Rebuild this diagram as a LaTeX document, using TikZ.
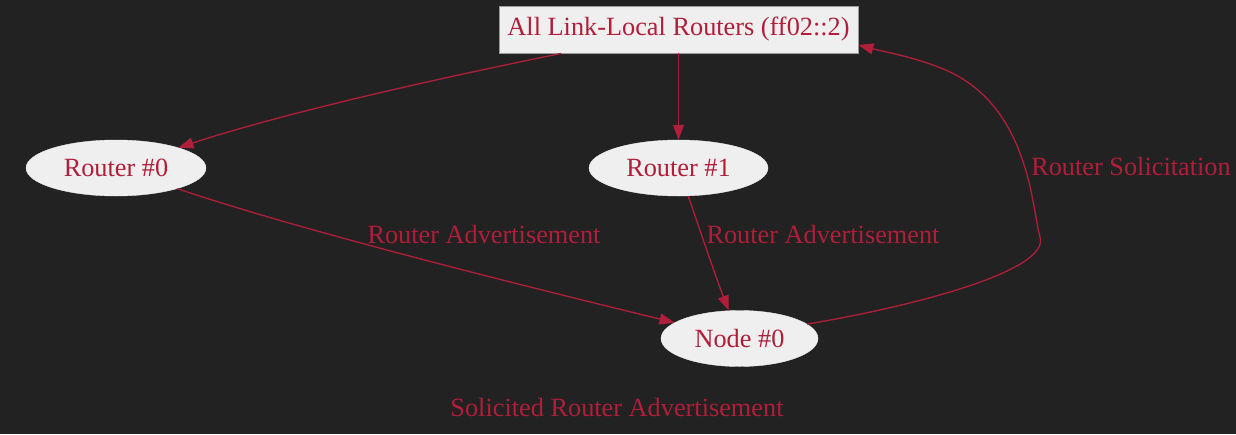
\documentclass[tikz,border=0pt]{standalone}
\usepackage{fontspec}
\setmainfont{Liberation Serif}
\usetikzlibrary{arrows.meta,shapes.geometric}
\definecolor{bg}{HTML}{222222}
\definecolor{fg}{HTML}{B01E3A}
\definecolor{nodefill}{HTML}{EFEFEF}
\definecolor{boxline}{HTML}{9A9A9A}
\tikzset{
  lbl/.style={text=fg,font=\fontsize{26.3}{31}\selectfont,inner sep=0pt},
  ellnode/.style={ellipse,fill=nodefill,draw=nodefill,text=fg,inner sep=0pt,minimum height=56pt,font=\fontsize{26.3}{31}\selectfont},
  boxnode/.style={rectangle,fill=nodefill,draw=boxline,line width=0.8pt,text=fg,inner sep=0pt,minimum width=359pt,minimum height=47pt,font=\fontsize{26.3}{31}\selectfont},
  conn/.style={draw=fg,line width=1.3pt,-{Triangle[length=15pt,width=11pt]}}
}
\begin{document}
\begin{tikzpicture}[x=1pt,y=-1pt]
\fill[bg] (0,0) rectangle (1236,434);
\useasboundingbox (0,0) rectangle (1236,434);
\node[boxnode] (box) at (678.5,29.5) {All Link-Local Routers (ff02::2)};
\node[ellnode,minimum width=180pt] (r0) at (116,168) {Router \#0};
\node[ellnode,minimum width=179pt] (r1) at (678.5,168) {Router \#1};
\node[ellnode,minimum width=157pt] (n0) at (739.5,338.5) {Node \#0};
\node[lbl] (l1) at (484,234) {Router Advertisement};
\node[lbl] (l2) at (823,234) {Router Advertisement};
\node[lbl] (l3) at (1131,167) {Router Solicitation};
\node[lbl] (title) at (617,407) {Solicited Router Advertisement};
\draw[conn] (box) .. controls (470,72) and (300,108) .. (r0);
\draw[conn] (box) -- (r1);
\draw[conn] (r0) .. controls (300,230) and (500,280) .. (n0);
\draw[conn] (r1) .. controls (700,230) and (715,275) .. (n0);
\coordinate (c1) at (1040,237);
\draw[conn] (n0.12) .. controls (920,305) and (1050,270) .. (c1)
  .. controls (1032,210) and (1030,110) .. (950,72)
  .. controls (920,58) and (885,52) .. (box.east |- 0,45);
\end{tikzpicture}
\end{document}
